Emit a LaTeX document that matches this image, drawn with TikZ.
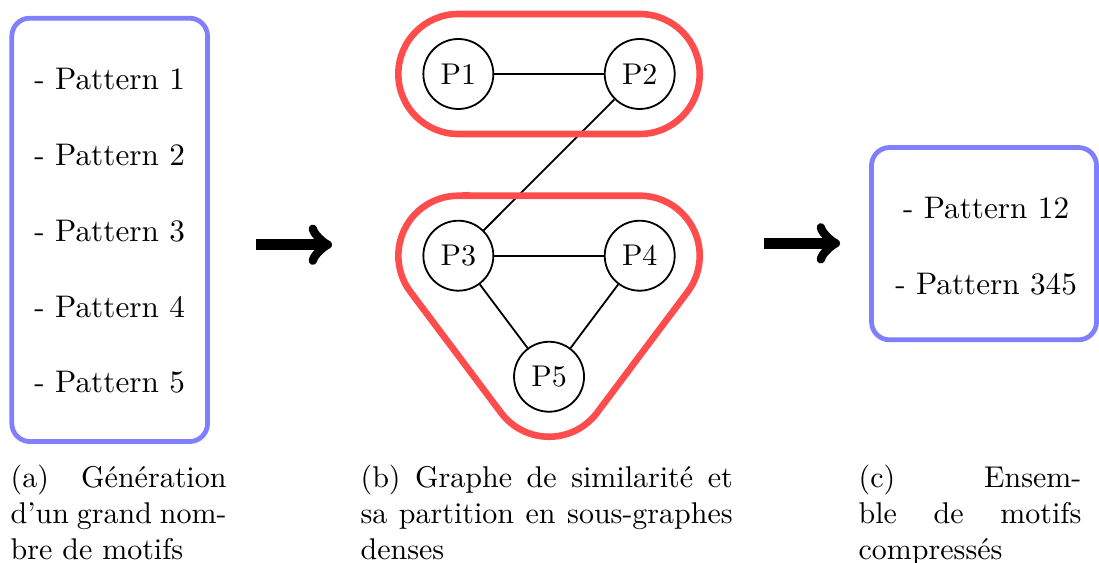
\documentclass[tikz,border=0pt]{standalone}
\usetikzlibrary{calc}

\begin{document}
\begin{tikzpicture}[listbox/.style={draw=blue!50, ultra thick, rounded corners=6pt, inner sep=0pt}, item/.style={anchor=base, font=\fontsize{10.4}{12.5}\selectfont}, vertex/.style={draw, circle, semithick, minimum size=0.82cm, inner sep=0pt}, hull/.style={red!70, line width=2.2pt}, bigarrow/.style={->, line width=3.5pt}, caption/.style={anchor=north west, inner sep=0pt, align=justify}]
\useasboundingbox (0,0) rectangle (12.876,-6.596);
% (a) liste des motifs
\node[listbox, minimum width=2.293cm, minimum height=4.96cm] (listA) at (1.285,-2.693) {};
\foreach \i in {1,...,5}
  \node[item] (a\i) at (1.285,{-1.0545-0.887*(\i-1)}) {- Pattern \i};
\coordinate (s1) at (3.0,-2.867);
\coordinate (e1) at (3.89,-2.867);
\draw[bigarrow] (s1) -- (e1);
% (b) graphe de similarite
\node[vertex] (p1) at (5.370,-0.867) {P1};
\node[vertex] (p2) at (7.495,-0.867) {P2};
\node[vertex] (p3) at (5.370,-2.996) {P3};
\node[vertex] (p4) at (7.495,-2.996) {P4};
\node[vertex] (p5) at (6.4325,-4.414) {P5};
\draw[semithick] (p1) -- (p2);
\draw[semithick] (p2) -- (p3);
\draw[semithick] (p3) -- (p4);
\draw[semithick] (p3) -- (p5);
\draw[semithick] (p4) -- (p5);
\draw[hull, rounded corners=0.703cm] ($(p1)+(-0.703,0.703)$) rectangle ($(p2)+(0.703,-0.703)$);
\draw[hull] ($(p3)+(90:0.703)$) -- ($(p4)+(90:0.703)$) arc[start angle=90, end angle=-36.84, radius=0.703]
  -- ($(p5)+(-36.84:0.703)$) arc[start angle=-36.84, end angle=-143.16, radius=0.703]
  -- ($(p3)+(-143.16:0.703)$) arc[start angle=-143.16, end angle=-270, radius=0.703] -- cycle;
\coordinate (s2) at (8.951,-2.851);
\coordinate (e2) at (9.842,-2.851);
\draw[bigarrow] (s2) -- (e2);
% (c) motifs compresses
\node[listbox, minimum width=2.636cm, minimum height=2.253cm] (listC) at (11.529,-2.855) {};
\node[item] (c1) at (11.553,-2.558) {- Pattern 12};
\node[item] (c2) at (11.553,-3.445) {- Pattern 345};
% legendes
\node[caption, text width=2.53cm] (capA) at (0.117,-5.442) {(a) Génération\linebreak d’un~grand~nom\mbox{-}\linebreak bre de motifs};
\node[caption, text width=4.36cm] (capB) at (4.218,-5.442) {(b) Graphe de similarité et\linebreak sa partition en sous-graphes\linebreak denses};
\node[caption, text width=2.61cm] (capC) at (10.053,-5.442) {(c) Ensem\mbox{-}\linebreak ble de motifs\linebreak compressés};
\end{tikzpicture}
\end{document}
